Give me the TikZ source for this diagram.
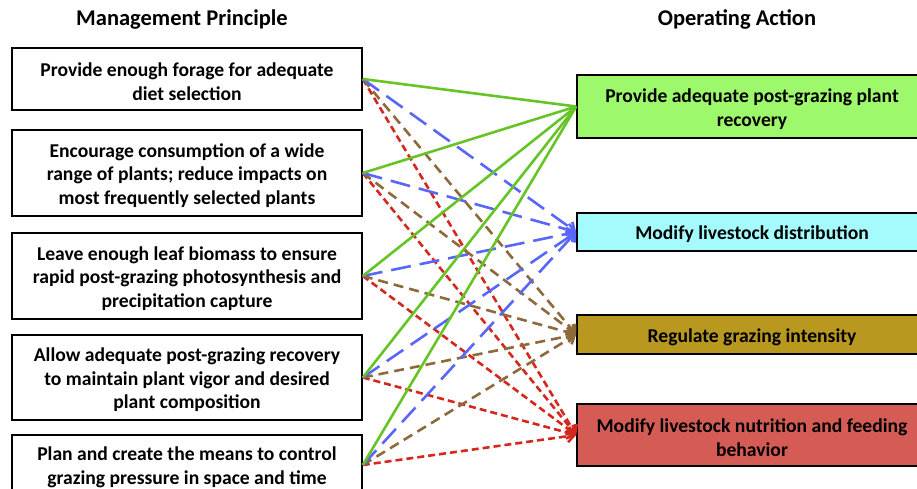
\documentclass[tikz,border=0pt]{standalone}
\usepackage{fontspec}
\setmainfont{Carlito}
\usetikzlibrary{arrows.meta}
\definecolor{lgreen}{HTML}{66C427}
\definecolor{lblue}{HTML}{5867FA}
\definecolor{lbrown}{HTML}{8C6A3C}
\definecolor{lred}{HTML}{D4281E}
\definecolor{fgreen}{HTML}{9EF86C}
\definecolor{fcyan}{HTML}{A5FAFC}
\definecolor{fgold}{HTML}{B8981F}
\definecolor{fred}{HTML}{D55C55}
\tikzset{
  boxb/.style={draw=black, line width=1.6pt, minimum width=350pt},
  title/.style={font=\bfseries\fontsize{22.5}{26}\selectfont},
  greenl/.style={lgreen, line width=2.6pt},
  bluel/.style={lblue, line width=2.6pt, dash pattern=on 20pt off 9pt, -{Straight Barb[length=7pt,width=12pt]}},
  brownl/.style={lbrown, line width=2.6pt, dash pattern=on 10pt off 6pt, -{Straight Barb[length=7pt,width=12pt]}},
  redl/.style={lred, line width=2.6pt, dash pattern=on 7pt off 4pt, -{Straight Barb[length=7pt,width=12pt]}},
  ptext/.style={font=\bfseries\fontsize{19.6}{23.5}\selectfont, align=center, inner sep=0pt},
}
\begin{document}
\begin{tikzpicture}[x=1pt,y=-1pt]
\useasboundingbox (0,0) rectangle (917,489);
\node[title] (t1) at (182,19.5) {Management Principle};
\node[title] (t2) at (737,19.5) {Operating Action};

\node[boxb, minimum height=62pt] (l1) at (187,79) {};
\node[ptext] (l1t) at ([yshift=-2.5pt]l1.center) {Provide enough forage for adequate\\diet selection};
\node[boxb, minimum height=86pt] (l2) at (187,173) {};
\node[ptext] (l2t) at ([yshift=-2.5pt]l2.center) {Encourage consumption of a wide\\range of plants; reduce impacts on\\most frequently selected plants};
\node[boxb, minimum height=86pt] (l3) at (187,276) {};
\node[ptext] (l3t) at ([yshift=-2.5pt]l3.center) {Leave enough leaf biomass to ensure\\rapid post-grazing photosynthesis and\\precipitation capture};
\node[boxb, minimum height=85pt] (l4) at (187,377.5) {};
\node[ptext] (l4t) at ([yshift=-2.5pt]l4.center) {Allow adequate post-grazing recovery\\to maintain plant vigor and desired\\plant composition};
\node[boxb, minimum height=60pt] (l5) at (187,465) {};
\node[ptext] (l5t) at ([yshift=-2.5pt]l5.center) {Plan and create the means to control\\grazing pressure in space and time};

\node[boxb, fill=fgreen, minimum height=63pt] (ra) at (752,106.5) {};
\node[ptext] (rat) at ([yshift=-2.5pt]ra.center) {Provide adequate post-grazing plant\\recovery};
\node[boxb, fill=fcyan, minimum height=38pt] (rb) at (752,232) {};
\node[ptext] (rbt) at ([yshift=-2.5pt]rb.center) {Modify livestock distribution};
\node[boxb, fill=fgold, minimum height=39pt] (rc) at (752,334.5) {};
\node[ptext] (rct) at ([yshift=-2.5pt]rc.center) {Regulate grazing intensity};
\node[boxb, fill=fred, minimum height=62pt] (rd) at (752,435) {};
\node[ptext] (rdt) at ([yshift=-2.5pt]rd.center) {Modify livestock nutrition and feeding\\behavior};

\foreach \s in {l1,l2,l3,l4,l5}{
  \draw[redl] (\s.east) -- (rd.west);
}
\foreach \s in {l1,l2,l3,l4,l5}{
  \draw[brownl] (\s.east) -- (rc.west);
}
\foreach \s in {l1,l2,l3,l4,l5}{
  \draw[bluel] (\s.east) -- (rb.west);
}
\foreach \s in {l1,l2,l3,l4,l5}{
  \draw[greenl] (\s.east) -- (ra.west);
}
\end{tikzpicture}
\end{document}
